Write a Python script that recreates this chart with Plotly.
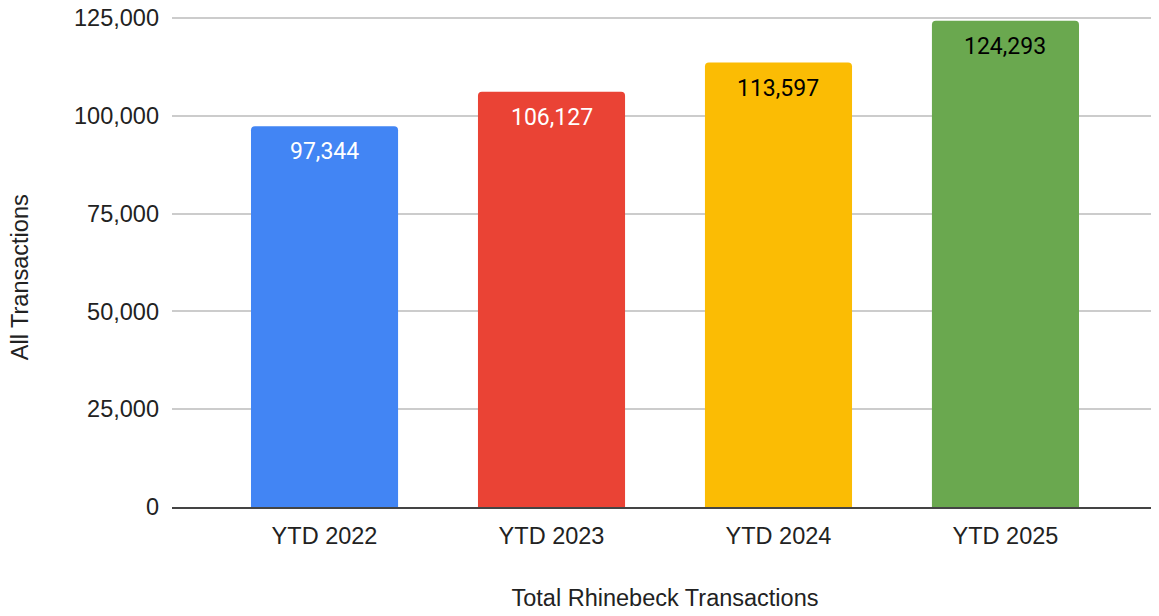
import plotly.graph_objects as go

categories = ["YTD 2022", "YTD 2023", "YTD 2024", "YTD 2025"]
values = [97344, 106127, 113597, 124293]
bar_colors = ["#4285F4", "#EA4335", "#FBBC04", "#6AA84F"]
label_colors = ["#FFFFFF", "#FFFFFF", "#000000", "#000000"]
tick_vals = [0, 25000, 50000, 75000, 100000, 125000]
tick_text = ["0", "25,000", "50,000", "75,000", "100,000", "125,000"]

AXFONT = "Arial, 'Liberation Sans', sans-serif"
LBLFONT = "Roboto, Arial, sans-serif"

fig = go.Figure()
fig.add_trace(go.Bar(
    x=categories, y=values,
    marker=dict(color=bar_colors, line=dict(width=0), cornerradius=4),
    hoverinfo="skip",
))

for c, v, lc in zip(categories, values, label_colors):
    fig.add_annotation(
        x=c, y=v, xref="x", yref="y", text=f"{v:,}", showarrow=False,
        yanchor="top", yshift=-10, font=dict(family=LBLFONT, size=23, color=lc),
    )

fig.add_annotation(
    x=-0.154, y=0.4665, xref="paper", yref="paper", text="All Transactions",
    textangle=-90, showarrow=False, xanchor="center", yanchor="middle",
    font=dict(family=AXFONT, size=23.5, color="#222222"),
)

fig.update_layout(
    width=1159, height=616,
    margin=dict(l=164, r=9, t=6, b=117, autoexpand=False),
    paper_bgcolor="white", plot_bgcolor="white",
    bargap=0.352,
    showlegend=False,
    font=dict(family=AXFONT, size=23.5, color="#222222"),
)
fig.update_xaxes(
    range=[-0.672, 3.672], automargin=False,
    showgrid=False, showline=True, linecolor="#444444", linewidth=1.5,
    ticks="", ticklabelstandoff=7,
    tickfont=dict(family=AXFONT, size=23.5, color="#222222"),
    title=dict(text="Total Rhinebeck Transactions", standoff=42,
               font=dict(family=AXFONT, size=23.5, color="#222222")),
)
fig.update_yaxes(
    range=[0, 126020], tickvals=tick_vals, ticktext=tick_text, automargin=False,
    showgrid=True, gridcolor="#cccccc", gridwidth=1.5,
    zeroline=False, showline=False, ticks="", ticklabelstandoff=12,
    ticklabeloverflow="allow",
    tickfont=dict(family=AXFONT, size=23.5, color="#222222"),
)

fig.write_html("out.html")
